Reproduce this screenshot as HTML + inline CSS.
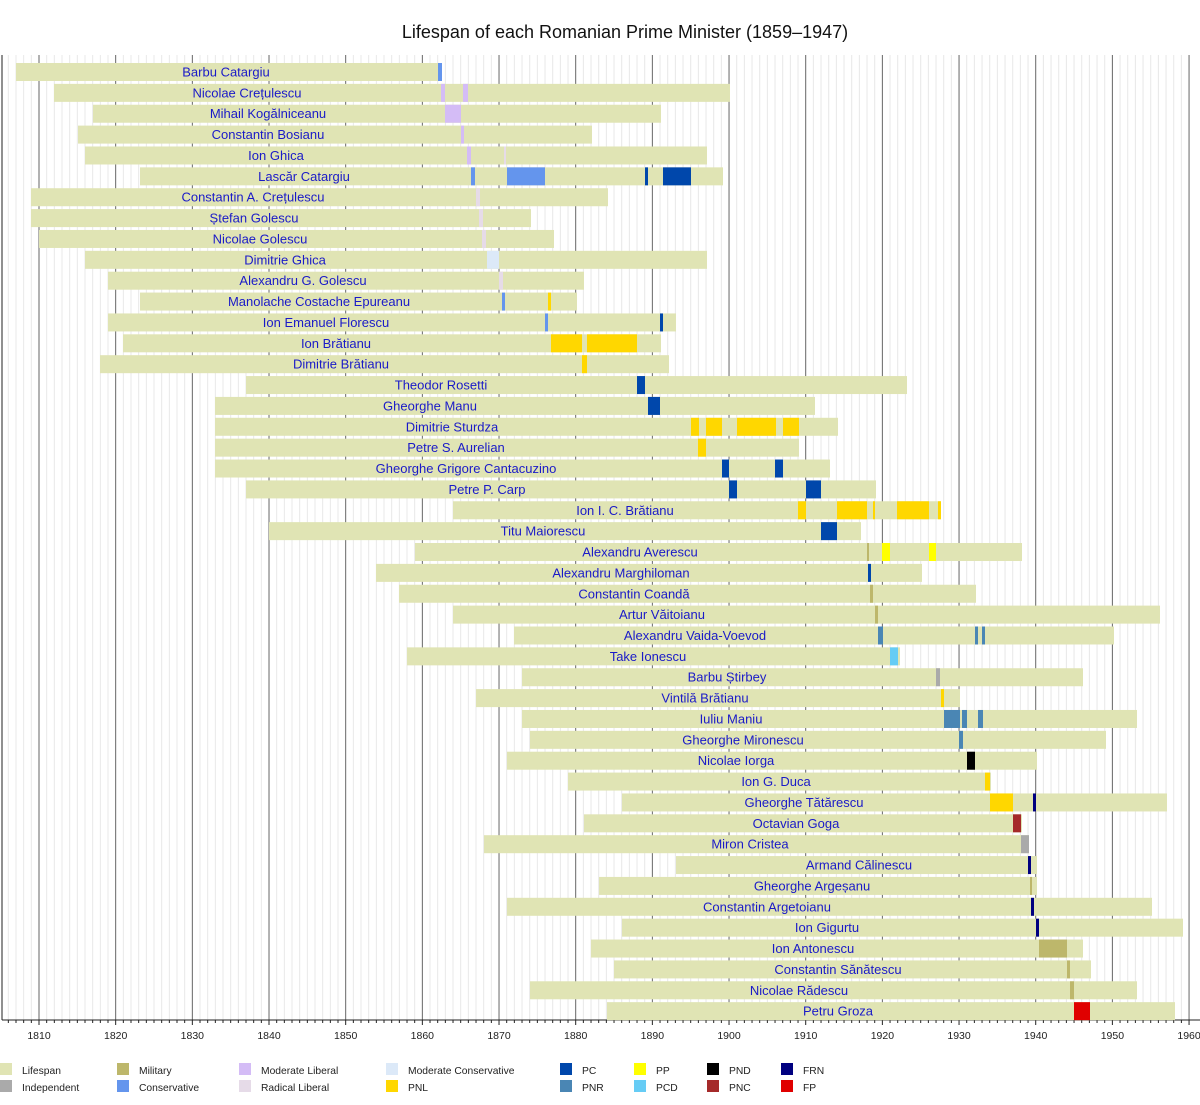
<!DOCTYPE html>
<html><head><meta charset="utf-8"><style>
body{margin:0;background:#fff;width:1200px;height:1100px;overflow:hidden}
svg text{font-family:"Liberation Sans",sans-serif}
</style></head><body>
<svg id="s" width="1200" height="1100" xmlns="http://www.w3.org/2000/svg">
<rect width="1200" height="1100" fill="#fff"/>
<text x="625" y="38" font-size="18" text-anchor="middle" fill="#111">Lifespan of each Romanian Prime Minister (1859–1947)</text>
</svg>
<script>
var s=document.getElementById('s'),h='';
function X(y){return 39+(y-1810)*7.667;}
for(var y=1805;y<=1960;y++){var x=X(y);if(x<2)continue;var maj=y%10==0;
h+='<line x1="'+x+'" y1="55" x2="'+x+'" y2="1020" stroke="'+(maj?'#666':'#e8e8e8')+'" stroke-width="1"/>';
h+='<line x1="'+x+'" y1="1020" x2="'+x+'" y2="'+(maj?1025:1023)+'" stroke="#222"/>';
if(maj)h+='<text x="'+x+'" y="1039" font-size="10.5" text-anchor="middle" fill="#222">'+y+'</text>';}
h+='<line x1="2" y1="55" x2="2" y2="1020" stroke="#222"/><line x1="2" y1="1020" x2="1200" y2="1020" stroke="#222"/>';
var C={ml:'#d4bcf6',rl:'#e6dbe8',cons:'#6495ed',mc:'#dce9f8',pc:'#0047ab',pnl:'#ffd700',pp:'#ffff00',mil:'#bdb76b',pnr:'#4a86b4',pcd:'#66ccf5',ind:'#aaaaaa',pnd:'#000',frn:'#000080',pnc:'#a52a2a',fp:'#e00000'};
var R=[
["Barbu Catargiu",16,438,226,[[438,442,'cons']]],
["Nicolae Crețulescu",54,730,247,[[441,445,'ml'],[463,468,'ml']]],
["Mihail Kogălniceanu",93,661,268,[[445,461,'ml']]],
["Constantin Bosianu",78,592,268,[[461,464,'ml']]],
["Ion Ghica",85,707,276,[[467,471,'ml'],[504,506,'rl']]],
["Lascăr Catargiu",140,723,304,[[471,475,'cons'],[507,545,'cons'],[645,648,'pc'],[663,691,'pc']]],
["Constantin A. Crețulescu",31,608,253,[[476,480,'rl']]],
["Ștefan Golescu",31,531,254,[[479,483,'rl']]],
["Nicolae Golescu",39,554,260,[[482,486,'rl']]],
["Dimitrie Ghica",85,707,285,[[487,499,'mc']]],
["Alexandru G. Golescu",108,584,303,[[499,503,'rl']]],
["Manolache Costache Epureanu",140,577,319,[[502,505,'cons'],[548,551,'pnl']]],
["Ion Emanuel Florescu",108,676,326,[[545,548,'cons'],[660,663,'pc']]],
["Ion Brătianu",123,661,336,[[551,582,'pnl'],[587,637,'pnl']]],
["Dimitrie Brătianu",100,669,341,[[582,587,'pnl']]],
["Theodor Rosetti",246,907,441,[[637,645,'pc']]],
["Gheorghe Manu",215,815,430,[[648,660,'pc']]],
["Dimitrie Sturdza",215,838,452,[[691,699,'pnl'],[706,722,'pnl'],[737,776,'pnl'],[783,799,'pnl']]],
["Petre S. Aurelian",215,799,456,[[698,706,'pnl']]],
["Gheorghe Grigore Cantacuzino",215,830,466,[[722,729,'pc'],[775,783,'pc']]],
["Petre P. Carp",246,876,487,[[729,737,'pc'],[806,821,'pc']]],
["Ion I. C. Brătianu",453,941,625,[[798,806,'pnl'],[837,867,'pnl'],[873,875,'pnl'],[897,929,'pnl'],[938,941,'pnl']]],
["Titu Maiorescu",269,861,543,[[821,837,'pc']]],
["Alexandru Averescu",415,1022,640,[[867,869,'mil'],[882,890,'pp'],[929,936,'pp']]],
["Alexandru Marghiloman",376,922,621,[[868,871,'pc']]],
["Constantin Coandă",399,976,634,[[870,873,'mil']]],
["Artur Văitoianu",453,1160,662,[[875,878,'mil']]],
["Alexandru Vaida-Voevod",514,1114,695,[[878,883,'pnr'],[975,978,'pnr'],[982,985,'pnr']]],
["Take Ionescu",407,900,648,[[890,898,'pcd']]],
["Barbu Știrbey",522,1083,727,[[936,940,'ind']]],
["Vintilă Brătianu",476,960,705,[[941,944,'pnl']]],
["Iuliu Maniu",522,1137,731,[[944,960,'pnr'],[962,967,'pnr'],[978,983,'pnr']]],
["Gheorghe Mironescu",530,1106,743,[[959,963,'pnr']]],
["Nicolae Iorga",507,1037,736,[[967,975,'pnd']]],
["Ion G. Duca",568,991,776,[[985,990,'pnl']]],
["Gheorghe Tătărescu",622,1167,804,[[990,1013,'pnl'],[1033,1036,'frn']]],
["Octavian Goga",584,1022,796,[[1013,1021,'pnc']]],
["Miron Cristea",484,1029,750,[[1021,1029,'ind']]],
["Armand Călinescu",676,1037,859,[[1028,1031,'frn']]],
["Gheorghe Argeșanu",599,1037,812,[[1030,1032,'mil']]],
["Constantin Argetoianu",507,1152,767,[[1031,1034,'frn']]],
["Ion Gigurtu",622,1183,827,[[1036,1039,'frn']]],
["Ion Antonescu",591,1083,813,[[1039,1067,'mil']]],
["Constantin Sănătescu",614,1091,838,[[1067,1070,'mil']]],
["Nicolae Rădescu",530,1137,799,[[1070,1074,'mil']]],
["Petru Groza",607,1175,838,[[1074,1090,'fp']]]];
R.forEach(function(r,i){var cy=72+i*20.87,t=cy-9;
h+='<rect x="'+r[1]+'" y="'+t+'" width="'+(r[2]-r[1])+'" height="18" fill="#e0e4b4"/>';
r[4].forEach(function(g){h+='<rect x="'+g[0]+'" y="'+t+'" width="'+(g[1]-g[0])+'" height="18" fill="'+C[g[2]]+'"/>';});
h+='<text x="'+r[3]+'" y="'+(cy+4.5)+'" font-size="13" text-anchor="middle" fill="#1a1ac8">'+r[0]+'</text>';});
var L=[[0,'#e0e4b4','Lifespan','#aaaaaa','Independent'],[117,C.mil,'Military',C.cons,'Conservative'],[239,C.ml,'Moderate Liberal',C.rl,'Radical Liberal'],[386,C.mc,'Moderate Conservative',C.pnl,'PNL'],[560,C.pc,'PC',C.pnr,'PNR'],[634,C.pp,'PP',C.pcd,'PCD'],[707,C.pnd,'PND',C.pnc,'PNC'],[781,C.frn,'FRN',C.fp,'FP']];
L.forEach(function(l){h+='<rect x="'+l[0]+'" y="1063" width="12" height="12" fill="'+l[1]+'"/><text x="'+(l[0]+22)+'" y="1074" font-size="10.3" fill="#222">'+l[2]+'</text>';
h+='<rect x="'+l[0]+'" y="1080" width="12" height="12" fill="'+l[3]+'"/><text x="'+(l[0]+22)+'" y="1091" font-size="10.3" fill="#222">'+l[4]+'</text>';});
s.insertAdjacentHTML('beforeend',h);
</script>
</body></html>
